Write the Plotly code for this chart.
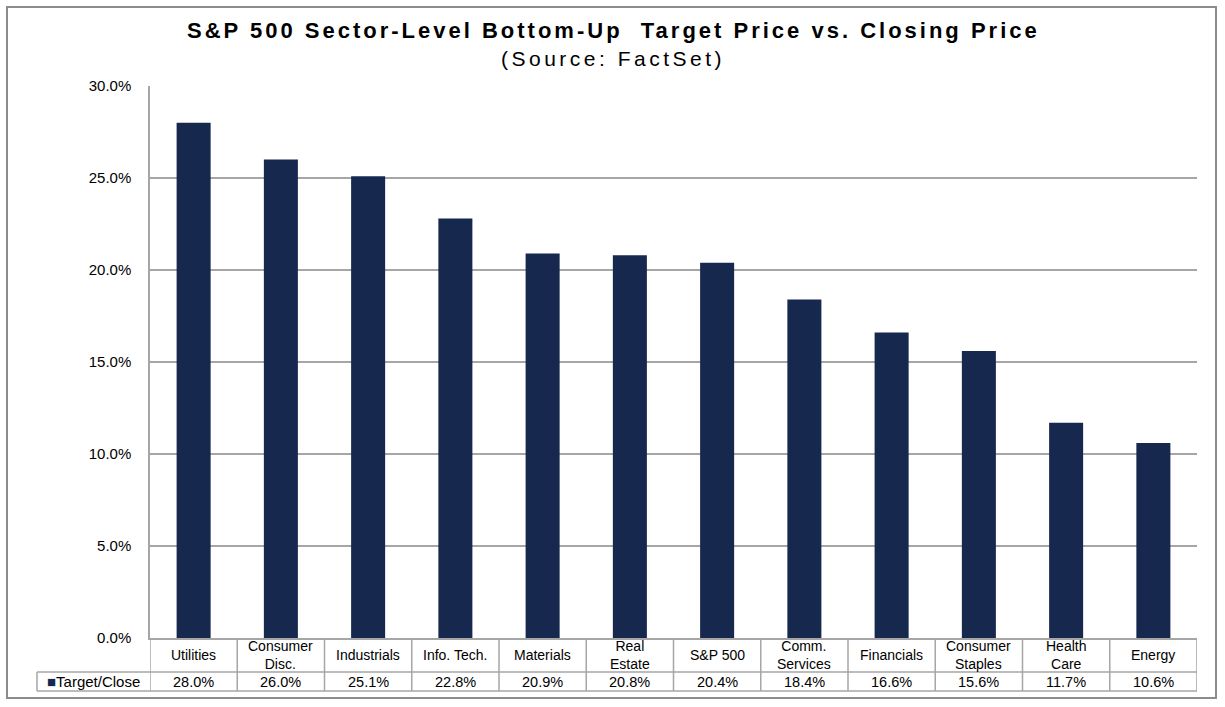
import plotly.graph_objects as go

sectors = ["Utilities", "Consumer<br>Disc.", "Industrials", "Info. Tech.", "Materials",
           "Real<br>Estate", "S&P 500", "Comm.<br>Services", "Financials",
           "Consumer<br>Staples", "Health<br>Care", "Energy"]
target_close = [28.0, 26.0, 25.1, 22.8, 20.9, 20.8, 20.4, 18.4, 16.6, 15.6, 11.7, 10.6]
y_ticks = [0, 5, 10, 15, 20, 25, 30]
series_name = "Target/Close"

BAR = "#17284f"
GRID = "#a6a6a6"
FONT = "Liberation Sans, Arial, sans-serif"

# pixel geometry of the plot area (page is 1225 x 707)
L, R, T, B = 150, 28, 86, 69
W, H = 1225 - L - R, 707 - T - B


def px_x(p):
    return (p - L) / W


def px_y(p):
    return (707 - B - p) / H


n = len(sectors)
idx = list(range(n))

fig = go.Figure(go.Bar(
    x=idx, y=target_close, marker=dict(color=BAR, line=dict(width=0)),
    name=series_name, showlegend=False, hoverinfo="skip",
))

shapes = []
annotations = []

# data table under the chart
row1_bot, row2_bot = px_y(672), px_y(691)
table_left = px_x(37)
for i in range(n + 1):
    shapes.append(dict(type="line", xref="x", yref="paper", x0=i - 0.5, x1=i - 0.5,
                       y0=0, y1=row2_bot, line=dict(color=GRID, width=1.5)))
shapes.append(dict(type="line", xref="paper", yref="paper", x0=table_left, x1=table_left,
                   y0=row1_bot, y1=row2_bot, line=dict(color=GRID, width=1.5)))
for yy in (row1_bot, row2_bot):
    shapes.append(dict(type="line", xref="paper", yref="paper", x0=table_left, x1=1,
                       y0=yy, y1=yy, line=dict(color=GRID, width=1.5)))

# outer chart border
shapes.append(dict(type="rect", xref="paper", yref="paper",
                   x0=px_x(7), x1=px_x(1216), y0=px_y(698), y1=px_y(7),
                   line=dict(color="#8c8c8c", width=2)))

cell_font = dict(size=14, color="#000000", family=FONT)
for i, (name, v) in enumerate(zip(sectors, target_close)):
    annotations.append(dict(x=i, xref="x", y=px_y(655), yref="paper", text=name,
                            showarrow=False, xanchor="center", yanchor="middle",
                            font=cell_font))
    annotations.append(dict(x=i, xref="x", y=px_y(681.5), yref="paper", text=f"{v:.1f}%",
                            showarrow=False, xanchor="center", yanchor="middle",
                            font=dict(size=14.5, color="#000000", family=FONT)))
annotations.append(dict(x=px_x(93), xref="paper", y=px_y(681.5), yref="paper",
                        text=f"<span style='color:{BAR};font-size:15px'>■</span>{series_name}",
                        showarrow=False, xanchor="center", yanchor="middle",
                        font=dict(size=15, color="#000000", family=FONT)))

# two-line title
annotations.append(dict(
    x=px_x(613), xref="paper", xanchor="center", y=px_y(31), yref="paper", yanchor="middle",
    text="<span style='letter-spacing:3px'><b>S&P 500 Sector-Level Bottom-Up  Target Price vs. Closing Price</b></span>",
    showarrow=False, font=dict(size=22, family=FONT, color="#000000"),
))
annotations.append(dict(
    x=px_x(613), xref="paper", xanchor="center", y=px_y(58), yref="paper", yanchor="middle",
    text="<span style='letter-spacing:3.5px'>(Source: FactSet)</span>",
    showarrow=False, font=dict(size=21, family=FONT, color="#000000"),
))

fig.update_layout(
    width=1225, height=707,
    margin=dict(l=L, r=R, t=T, b=B),
    paper_bgcolor="white", plot_bgcolor="white",
    font=dict(family=FONT, color="#000000"),
    bargap=0.61,
    xaxis=dict(range=[-0.5, n - 0.5], showticklabels=False, showgrid=False,
               showline=True, linecolor=GRID, linewidth=1.5, zeroline=False,
               fixedrange=True),
    yaxis=dict(range=[0, 30], tickvals=y_ticks, ticktext=[f"{t:.1f}%" for t in y_ticks],
               showgrid=True, gridcolor=GRID, gridwidth=1.5, zeroline=False,
               showline=True, linecolor=GRID, linewidth=1.5, ticks="",
               ticklabelstandoff=14, tickfont=dict(size=15, family=FONT, color="#000000"),
               fixedrange=True),
    shapes=shapes,
    annotations=annotations,
)

fig.write_html("out.html", config={"displayModeBar": False},
               post_script="document.body.style.margin='0';")
